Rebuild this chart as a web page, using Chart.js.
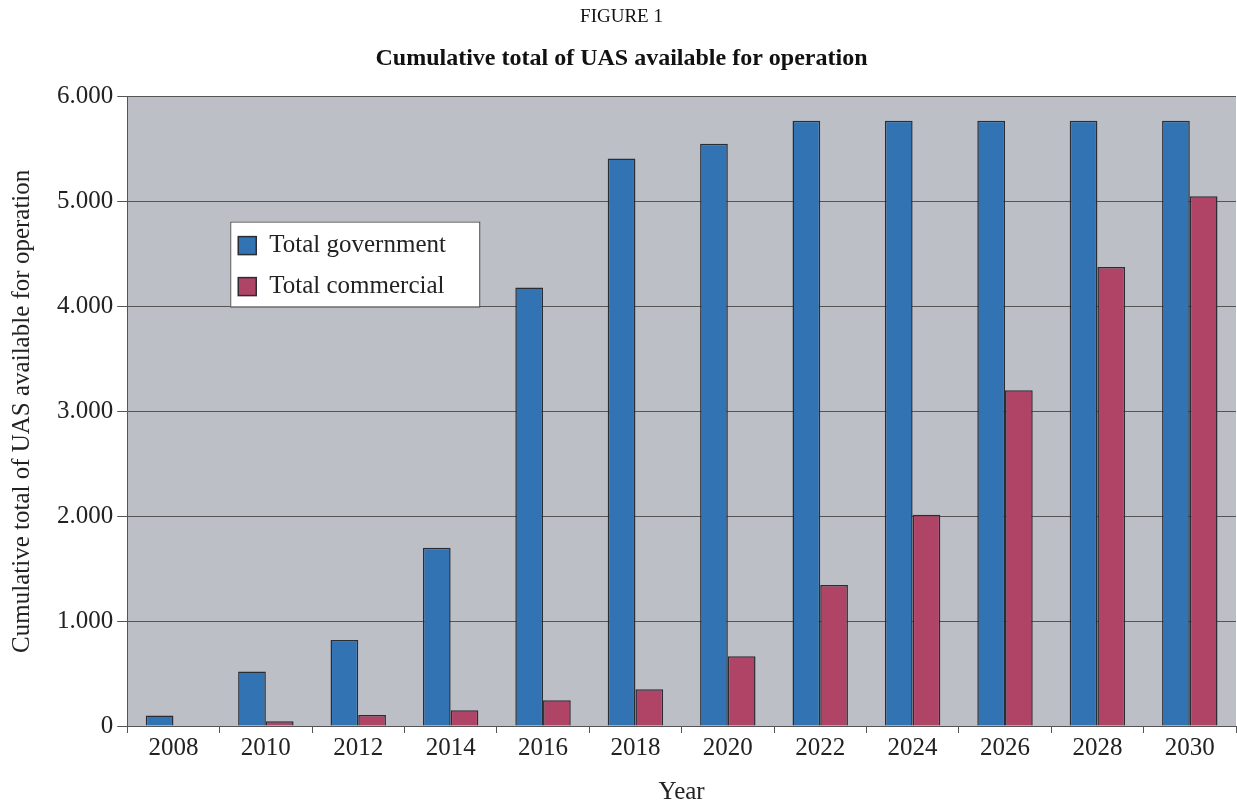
<!DOCTYPE html>
<html>
<head>
<meta charset="utf-8">
<script src="https://cdn.jsdelivr.net/npm/chart.js@4/dist/chart.umd.min.js"></script>
<style>
  html, body { margin: 0; padding: 0; background: #fff; }
  #wrap { width: 1237px; height: 802px; }
</style>
</head>
<body>
<div id="wrap"><canvas id="myChart"></canvas></div>
<script>
const years = ['2008', '2010', '2012', '2014', '2016', '2018', '2020', '2022', '2024', '2026', '2028', '2030']

/* valores */
const valoresGobierno = [100, 520, 820, 1700, 4180, 5410, 5550, 5770, 5770, 5770, 5770, 5770]
const valoresComercial = [0, 45, 105, 150, 245, 350, 665, 1345, 2015, 3200, 4375, 5050]

const nombres = ['Total government', 'Total commercial']
const yTicks = [0, 1000, 2000, 3000, 4000, 5000, 6000]

const colorGobierno = '#3274b3'
const colorComercial = '#b04467'
const colorBorde = '#2b2d36'
const fondo = '#bdbfc7'
const fuente = 'Liberation Serif'

/* pinta el fondo gris del area del grafico */
const fondoPlugin = {
  id: 'fondo',
  beforeDraw(chart) {
    const { ctx, chartArea: a } = chart
    ctx.save()
    ctx.fillStyle = fondo
    ctx.fillRect(a.left, a.top, a.right - a.left, a.bottom - a.top)
    ctx.restore()
  }
}

/* leyenda dentro del area del grafico */
const leyendaPlugin = {
  id: 'leyenda',
  afterDraw(chart) {
    const { ctx, chartArea: a } = chart
    const x = a.left + 103, y = a.top + 125, w = 249, h = 85
    ctx.save()
    ctx.fillStyle = '#fff'
    ctx.fillRect(x, y, w, h)
    ctx.strokeStyle = '#555'
    ctx.lineWidth = 1
    ctx.strokeRect(x + 0.5, y + 0.5, w, h)
    ctx.font = '25px "' + fuente + '"'
    ctx.textBaseline = 'middle'
    chart.data.datasets.forEach((ds, i) => {
      const cy = y + 24 + i * 41
      ctx.fillStyle = ds.backgroundColor
      ctx.fillRect(x + 8, cy - 9, 18, 18)
      ctx.strokeStyle = colorBorde
      ctx.lineWidth = 1.5
      ctx.strokeRect(x + 8, cy - 9, 18, 18)
      ctx.fillStyle = '#222'
      ctx.fillText(ds.label, x + 39, cy)
    })
    ctx.restore()
  }
}

const ctx = document.getElementById('myChart')

new Chart(ctx, {
  type: 'bar',
  data: {
    labels: years,
    datasets: [{
      label: nombres[0],
      data: valoresGobierno,
      backgroundColor: colorGobierno,
      borderColor: colorBorde,
      borderWidth: 1.5
    },
    {
      label: nombres[1],
      data: valoresComercial,
      backgroundColor: colorComercial,
      borderColor: colorBorde,
      borderWidth: 1.5
    }]
  },
  options: {
    responsive: true,
    maintainAspectRatio: false,
    animation: false,
    layout: { padding: { left: 7, right: 1, top: 0, bottom: 0 } },
    datasets: {
      bar: { categoryPercentage: 0.6, barPercentage: 1 }
    },
    plugins: {
      legend: { display: false },
      tooltip: { enabled: false },
      title: {
        display: true,
        text: 'FIGURE 1',
        color: '#111',
        font: { family: fuente, size: 19, weight: 'normal' },
        padding: { top: 6, bottom: 16 }
      },
      subtitle: {
        display: true,
        text: 'Cumulative total of UAS available for operation',
        color: '#111',
        font: { family: fuente, size: 24, weight: 'bold' },
        padding: { top: 0, bottom: 23 }
      }
    },
    scales: {
      x: {
        grid: {
          display: true,
          drawOnChartArea: false,
          drawTicks: true,
          tickLength: 7,
          color: '#555'
        },
        border: { color: '#555', width: 1 },
        ticks: {
          color: '#222',
          font: { family: fuente, size: 25 },
          padding: 0
        },
        title: {
          display: true,
          text: 'Year',
          color: '#222',
          font: { family: fuente, size: 25, lineHeight: 1 },
          padding: { top: 17, bottom: -3 }
        }
      },
      y: {
        min: 0,
        max: 6000,
        afterBuildTicks(axis) {
          axis.ticks = yTicks.map(v => ({ value: v }))
        },
        grid: {
          color: '#555',
          lineWidth: 1,
          tickLength: 10
        },
        border: { color: '#555', width: 1 },
        ticks: {
          color: '#222',
          font: { family: fuente, size: 25 },
          padding: 4,
          callback: v => v === 0 ? '0' : (v / 1000).toFixed(3)
        },
        title: {
          display: true,
          text: 'Cumulative total of UAS available for operation',
          color: '#222',
          font: { family: fuente, size: 25 },
          padding: { top: 0, bottom: 16 }
        }
      }
    }
  },
  plugins: [fondoPlugin, leyendaPlugin]
})
</script>
</body>
</html>
